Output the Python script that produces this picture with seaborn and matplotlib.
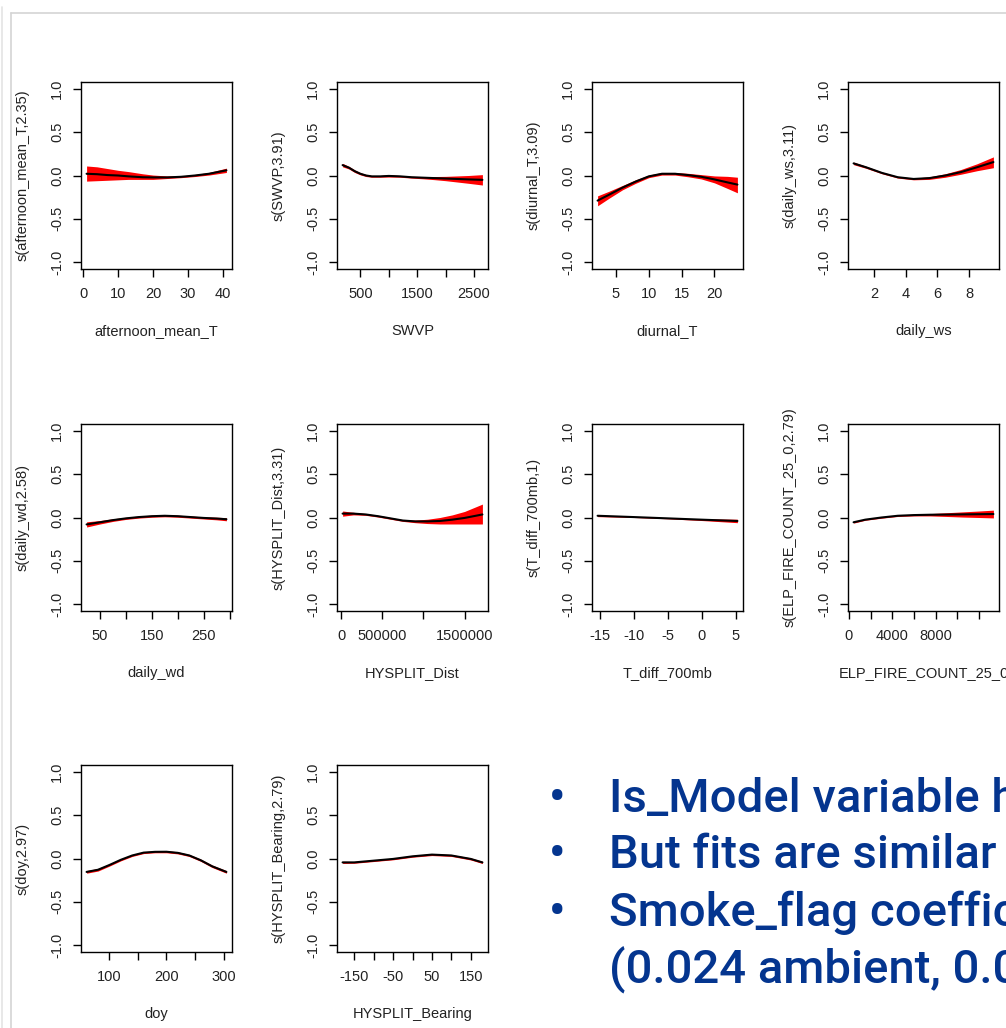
import matplotlib
matplotlib.use("Agg")
import matplotlib.pyplot as plt
from matplotlib.lines import Line2D
import pandas as pd
import seaborn as sns

sns.set_style("white")
plt.rcParams["font.family"] = ["Liberation Sans", "DejaVu Sans"]
plt.rcParams["axes.unicode_minus"] = False

# ---- estimated smooth terms: covariate grid, fit, lower / upper band ----
afternoon_x = [1, 4, 7, 10, 13, 17, 20, 24, 28, 32, 36, 41]
afternoon_fit = [0.02, 0.015, 0.005, 0.0, -0.01, -0.02, -0.022, -0.022, -0.015, 0.0, 0.02, 0.06]
afternoon_lo = [-0.065, -0.06, -0.055, -0.05, -0.045, -0.045, -0.045, -0.035, -0.025, -0.012, 0.005, 0.035]
afternoon_hi = [0.11, 0.10, 0.08, 0.06, 0.045, 0.02, 0.005, -0.005, -0.005, 0.012, 0.035, 0.085]

swvp_x = [187, 300, 400, 500, 600, 700, 850, 1000, 1200, 1400, 1600, 1800, 2000, 2200, 2400, 2648]
swvp_fit = [0.12, 0.09, 0.05, 0.02, 0.0, -0.01, -0.01, -0.005, -0.01, -0.02, -0.025, -0.03, -0.035, -0.04, -0.045, -0.05]
swvp_lo = [0.10, 0.075, 0.035, 0.007, -0.012, -0.02, -0.02, -0.018, -0.02, -0.03, -0.038, -0.048, -0.06, -0.075, -0.09, -0.11]
swvp_hi = [0.14, 0.105, 0.065, 0.033, 0.012, 0.0, 0.0, 0.008, 0.0, -0.01, -0.012, -0.012, -0.01, -0.005, 0.0, 0.01]

diurnal_x = [2.2, 4, 6, 8, 10, 12, 14, 16, 18, 20, 22, 23.5]
diurnal_fit = [-0.29, -0.22, -0.14, -0.07, -0.01, 0.02, 0.02, 0.005, -0.015, -0.045, -0.08, -0.105]
diurnal_lo = [-0.35, -0.26, -0.165, -0.09, -0.025, 0.005, 0.005, -0.015, -0.04, -0.085, -0.15, -0.2]
diurnal_hi = [-0.235, -0.18, -0.115, -0.05, 0.005, 0.035, 0.035, 0.025, 0.01, -0.005, -0.01, -0.02]

ws_x = [0.71, 1.5, 2.5, 3.5, 4.5, 5.5, 6.5, 7.5, 8.5, 9.54]
ws_fit = [0.14, 0.095, 0.03, -0.02, -0.04, -0.03, 0.0, 0.04, 0.095, 0.155]
ws_lo = [0.125, 0.083, 0.02, -0.03, -0.05, -0.045, -0.02, 0.015, 0.055, 0.09]
ws_hi = [0.155, 0.107, 0.04, -0.01, -0.03, -0.015, 0.02, 0.07, 0.135, 0.215]

wd_x = [24, 50, 75, 100, 125, 150, 175, 200, 225, 250, 275, 294]
wd_fit = [-0.08, -0.055, -0.03, -0.01, 0.005, 0.015, 0.02, 0.015, 0.005, -0.005, -0.012, -0.02]
wd_lo = [-0.11, -0.075, -0.045, -0.022, -0.007, 0.003, 0.008, 0.003, -0.007, -0.017, -0.027, -0.038]
wd_hi = [-0.05, -0.035, -0.015, 0.002, 0.017, 0.027, 0.032, 0.027, 0.017, 0.007, 0.003, -0.002]

dist_x = [19200, 150000, 300000, 450000, 600000, 750000, 900000, 1050000, 1200000, 1350000, 1500000, 1716000]
dist_fit = [0.045, 0.045, 0.035, 0.015, -0.01, -0.035, -0.045, -0.045, -0.04, -0.025, -0.005, 0.035]
dist_lo = [0.015, 0.03, 0.025, 0.005, -0.02, -0.045, -0.06, -0.07, -0.075, -0.075, -0.075, -0.075]
dist_hi = [0.075, 0.06, 0.045, 0.025, 0.0, -0.025, -0.03, -0.02, 0.0, 0.03, 0.07, 0.155]

tdiff_x = [-15.31, -10, -5, 0, 5.25]
tdiff_fit = [0.02, 0.005, -0.01, -0.025, -0.04]
tdiff_lo = [0.01, 0.0, -0.015, -0.035, -0.06]
tdiff_hi = [0.03, 0.01, -0.005, -0.015, -0.02]

fire_x = [424, 1500, 3000, 4500, 6000, 7500, 9000, 10500, 12000, 13329]
fire_fit = [-0.055, -0.025, 0.0, 0.02, 0.028, 0.032, 0.034, 0.036, 0.038, 0.04]
fire_lo = [-0.065, -0.032, -0.008, 0.012, 0.018, 0.018, 0.012, 0.005, 0.0, -0.005]
fire_hi = [-0.045, -0.018, 0.008, 0.028, 0.038, 0.045, 0.055, 0.065, 0.075, 0.085]

doy_x = [60, 80, 100, 120, 140, 160, 180, 200, 220, 240, 260, 280, 305]
doy_fit = [-0.155, -0.13, -0.075, -0.015, 0.035, 0.068, 0.077, 0.078, 0.065, 0.035, -0.02, -0.09, -0.155]
doy_lo = [-0.17, -0.145, -0.088, -0.027, 0.024, 0.057, 0.066, 0.066, 0.053, 0.023, -0.033, -0.104, -0.17]
doy_hi = [-0.14, -0.115, -0.062, -0.003, 0.046, 0.079, 0.088, 0.09, 0.077, 0.047, -0.007, -0.076, -0.14]

bearing_x = [-180, -150, -100, -50, 0, 50, 100, 150, 180]
bearing_fit = [-0.045, -0.045, -0.025, -0.005, 0.025, 0.045, 0.035, -0.005, -0.045]
bearing_lo = [-0.057, -0.055, -0.035, -0.015, 0.015, 0.034, 0.024, -0.017, -0.058]
bearing_hi = [-0.033, -0.035, -0.015, 0.005, 0.035, 0.056, 0.046, 0.007, -0.032]

# ---- axis text ----
x_names = ["afternoon_mean_T", "SWVP", "diurnal_T", "daily_ws", "daily_wd",
           "HYSPLIT_Dist", "T_diff_700mb", "ELP_FIRE_COUNT_25_0", "doy", "HYSPLIT_Bearing"]
y_names = ["s(afternoon_mean_T,2.35)", "s(SWVP,3.91)", "s(diurnal_T,3.09)", "s(daily_ws,3.11)",
           "s(daily_wd,2.58)", "s(HYSPLIT_Dist,3.31)", "s(T_diff_700mb,1)", "s(ELP_FIRE_COUNT_25_0,2.79)",
           "s(doy,2.97)", "s(HYSPLIT_Bearing,2.79)"]
x_ticks = [
    [0, 10, 20, 30, 40],
    [500, 1000, 1500, 2000, 2500],
    [5, 10, 15, 20],
    [2, 4, 6, 8],
    [50, 100, 150, 200, 250, 300],
    [0, 500000, 1000000, 1500000],
    [-15, -10, -5, 0, 5],
    [0, 2000, 4000, 6000, 8000, 10000, 12000],
    [100, 150, 200, 250, 300],
    [-150, -100, -50, 0, 50, 100, 150],
]
x_ticklabels = [
    ["0", "10", "20", "30", "40"],
    ["500", "", "1500", "", "2500"],
    ["5", "10", "15", "20"],
    ["2", "4", "6", "8"],
    ["50", "", "150", "", "250", ""],
    ["0", "500000", "", "1500000"],
    ["-15", "-10", "-5", "0", "5"],
    ["0", "", "4000", "", "8000", "", ""],
    ["100", "", "200", "", "300"],
    ["-150", "", "-50", "", "50", "", "150"],
]
y_ticks = [-1.0, -0.5, 0.0, 0.5, 1.0]
y_ticklabels = ["-1.0", "-0.5", "0.0", "0.5", "1.0"]

bullets = ["Is_Model variable h", "But fits are similar", "Smoke_flag coeffic", "(0.024 ambient, 0.0"]
bullet_marks = [True, True, True, False]

series = [
    (afternoon_x, afternoon_fit, afternoon_lo, afternoon_hi),
    (swvp_x, swvp_fit, swvp_lo, swvp_hi),
    (diurnal_x, diurnal_fit, diurnal_lo, diurnal_hi),
    (ws_x, ws_fit, ws_lo, ws_hi),
    (wd_x, wd_fit, wd_lo, wd_hi),
    (dist_x, dist_fit, dist_lo, dist_hi),
    (tdiff_x, tdiff_fit, tdiff_lo, tdiff_hi),
    (fire_x, fire_fit, fire_lo, fire_hi),
    (doy_x, doy_fit, doy_lo, doy_hi),
    (bearing_x, bearing_fit, bearing_lo, bearing_hi),
]

# ---- layout (pixels) ----
W, H, DPI = 1006, 1028, 100
col_left = [81, 337, 592, 848]
row_top = [82, 424, 765]
ax_w, ax_h = 151, 187

fig = plt.figure(figsize=(W / DPI, H / DPI), dpi=DPI)
fig.patch.set_facecolor("white")

# slide frame lines
def px_line(x0, y0, x1, y1, color, lw=1.0):
    fig.add_artist(Line2D([x0 / W, x1 / W], [1 - y0 / H, 1 - y1 / H],
                          transform=fig.transFigure, color=color, lw=lw))

px_line(1.5, 7, 1.5, H, "#e4e4e4", 1.2)
px_line(10.5, 13, 10.5, H, "#d4d4d4", 1.2)
px_line(10.5, 13, W, 13, "#d4d4d4", 1.2)

for i, (xs, fit, lo, hi) in enumerate(series):
    r, c = divmod(i, 4)
    left, top = col_left[c], row_top[r]
    ax = fig.add_axes([left / W, 1 - (top + ax_h) / H, ax_w / W, ax_h / H])
    df = pd.DataFrame({"x": xs, "fit": fit, "lo": lo, "hi": hi})
    ax.fill_between(df["x"], df["lo"], df["hi"], color="#ff0000", lw=0)
    sns.lineplot(data=df, x="x", y="fit", ax=ax, color="black", lw=1.5)

    span = df["x"].max() - df["x"].min()
    ax.set_xlim(df["x"].min() - 0.04 * span, df["x"].max() + 0.04 * span)
    ax.set_ylim(-1.08, 1.08)

    ax.set_xticks(x_ticks[i])
    ax.set_xticklabels(x_ticklabels[i])
    ax.set_yticks(y_ticks)
    ax.set_yticklabels(y_ticklabels, rotation=90, va="center")

    ax.tick_params(axis="both", direction="out", length=6, width=1.0, color="black",
                   labelsize=10.5, labelcolor="#222222", left=True, bottom=True)
    ax.tick_params(axis="x", pad=7)
    ax.tick_params(axis="y", pad=6)
    for sp in ax.spines.values():
        sp.set_color("black")
        sp.set_linewidth(1.0)
        sp.set_visible(True)

    ax.set_xlabel(x_names[i], fontsize=10.5, color="#222222", va="center")
    ax.set_ylabel(y_names[i], fontsize=10.5, color="#222222", va="center")
    ax.xaxis.set_label_coords(0.5, -62 / ax_h)
    ax.yaxis.set_label_coords(-58 / ax_w, 0.5)
    ax.set_facecolor("white")

# bullet text
baselines = [812, 868.5, 926, 984]
txt_color = "#04358f"
for line, mark, yb in zip(bullets, bullet_marks, baselines):
    if mark:
        fig.text(557 / W, 1 - yb / H, "\u2022", ha="center", va="baseline",
                 fontsize=34, color=txt_color, family=["Roboto", "DejaVu Sans"], fontweight="medium")
    fig.text(609 / W, 1 - yb / H, line, ha="left", va="baseline",
             fontsize=34, color=txt_color, family=["Roboto", "DejaVu Sans"], fontweight="medium")

fig.savefig("out.png", dpi=DPI, facecolor="white")
